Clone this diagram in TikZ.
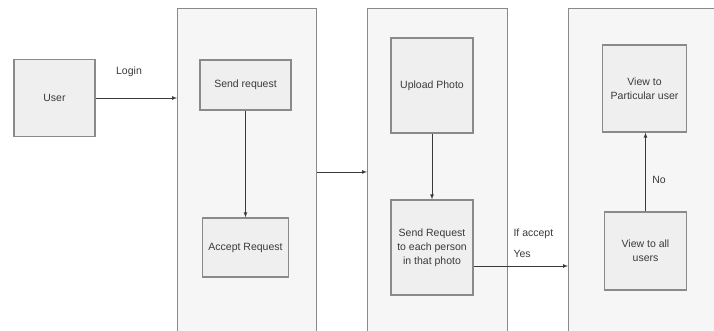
\documentclass[tikz,border=0pt]{standalone}
\usepackage{fontspec}
\setmainfont{Liberation Sans}
\definecolor{edge}{HTML}{8A8A8A}
\definecolor{panelfill}{HTML}{F6F6F6}
\definecolor{boxfill}{HTML}{EFEFEF}
\definecolor{ink}{HTML}{3A3A3A}
\tikzset{
	panel/.style = {draw = edge, fill = panelfill, line width = 0.9pt, anchor = north west, minimum height = 345pt},
	stepbox/.style = {draw = edge, fill = boxfill, line width = 1.3pt, align = center, text = ink, font = \fontsize{10.5}{14}\selectfont, inner sep = 2pt},
	flow/.style = {->, draw = ink, line width = 0.7pt},
	tag/.style = {text = ink, font = \fontsize{10.5}{14}\selectfont}
}

\begin{document}
\begin{tikzpicture}[> = latex, x = 1pt, y = -1pt]

	\clip (0, 0) rectangle (714, 331);
	\fill [white] (0, 0) rectangle (714, 331);

	% Panels

	\node [panel, minimum width = 139pt] (panelA) at (177, 8) {};
	\node [panel, minimum width = 140pt] (panelB) at (367, 8) {};
	\node [panel, minimum width = 160pt] (panelC) at (568, 8) {};

	% User and login

	\node [stepbox, minimum width = 81pt, minimum height = 77pt] (user) at (54.5, 98) {User};
	\draw [flow] (user.east) -- (panelA.west |- user.east);
	\node [tag] (login) at (129, 72) {Login};

	% First panel

	\node [stepbox, minimum width = 91pt, minimum height = 50pt] (sendreq) at (245.5, 85) {Send request};
	\node [stepbox, minimum width = 86pt, minimum height = 59pt] (acceptreq) at (245.5, 247.5) {Accept Request};
	\draw [flow] (sendreq.south) -- (acceptreq.north);

	\draw [flow] ([yshift = 9pt] panelA.east) -- ([yshift = 9pt] panelB.west);

	% Second panel

	\node [stepbox, minimum width = 82pt, minimum height = 95pt] (upload) at (432, 85.5) {Upload Photo};
	\node [stepbox, minimum width = 82pt, minimum height = 95pt] (sendeach) at (432, 247.5) {Send Request\\to each person\\in that photo};
	\draw [flow] (upload.south) -- (sendeach.north);

	\coordinate (yes) at ([yshift = -18.5pt] sendeach.east);
	\draw [flow] (yes) -- (yes -| panelC.west);
	\node [tag, align = left, anchor = west] (accept) at (510, 243) {If accept\\[7pt]Yes};

	% Third panel

	\node [stepbox, minimum width = 84pt, minimum height = 87pt] (particular) at (644.5, 88.5) {View to\\Particular user};
	\node [stepbox, minimum width = 82pt, minimum height = 78pt] (allusers) at (645.5, 251) {View to all\\users};
	\draw [flow] (allusers.north) -- (allusers.north |- particular.south);
	\node [tag] (no) at (659, 180) {No};

\end{tikzpicture}
\end{document}
